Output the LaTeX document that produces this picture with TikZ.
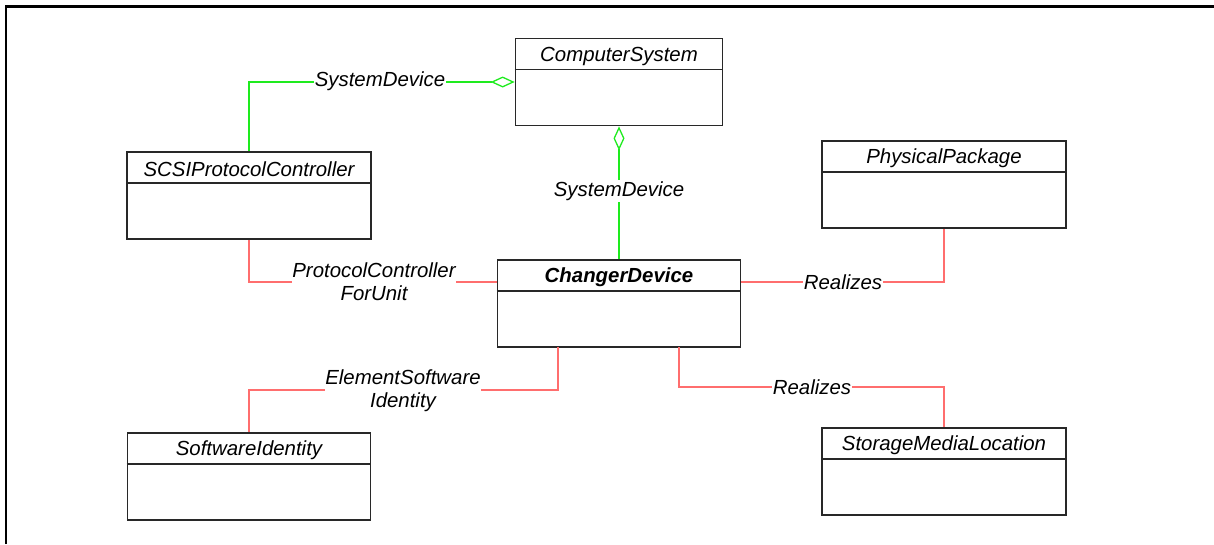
\documentclass[tikz,border=0pt]{standalone}
\usepackage{fontspec}
\setmainfont{Liberation Sans}
\usetikzlibrary{arrows.meta,calc}
\definecolor{relred}{RGB}{255,110,110}
\definecolor{relgreen}{RGB}{30,235,30}
\definecolor{boxline}{RGB}{40,40,40}
\tikzset{
  umlbox/.style={draw=boxline, line width=1.7pt, fill=white, inner sep=0pt},
  umltitle/.style={font=\fontsize{20.4}{23}\selectfont\itshape, inner sep=0pt},
  umldiv/.style={draw=boxline, line width=1.5pt},
  redrel/.style={draw=relred, line width=1.5pt},
  greenrel/.style={draw=relgreen, line width=1.4pt},
  aggr/.style={-{Diamond[open,length=24pt,width=11pt,line width=1.3pt]}},
  rellabel/.style={font=\fontsize{20.4}{23}\selectfont\itshape, fill=white, inner sep=1pt, align=center},
  frameline/.style={line width=2.3pt, draw=black}
}
\begin{document}
\begin{tikzpicture}[x=1pt,y=-1pt]
\useasboundingbox (0,0) rectangle (1214,544);
% frame (left and top edges only)
\draw[frameline] (5.7,544) -- (5.7,6.5) -- (1214,6.5);

% class boxes
\node[umlbox, minimum width=207pt, minimum height=87pt] (cs) at (619,82) {};
\node[umlbox, minimum width=244pt, minimum height=87pt] (scsi) at (249,195.5) {};
\node[umlbox, minimum width=244pt, minimum height=87pt] (pp) at (944,184.5) {};
\node[umlbox, minimum width=243pt, minimum height=87pt] (cd) at (619,303.5) {};
\node[umlbox, minimum width=243pt, minimum height=87pt] (si) at (249,476.5) {};
\node[umlbox, minimum width=244pt, minimum height=87pt] (sml) at (944,471.5) {};

% dividers
\foreach \b in {cs,scsi,pp,cd,si,sml}{
  \draw[umldiv] ($(\b.north west)+(0,32)$) -- ($(\b.north east)+(0,32)$);
}

% titles
\node[umltitle] (cst) at ($(cs.north)+(0,18.5)$) {ComputerSystem};
\node[umltitle] (scsit) at ($(scsi.north)+(0,18.5)$) {SCSIProtocolController};
\node[umltitle] (ppt) at ($(pp.north)+(0,18.5)$) {PhysicalPackage};
\node[umltitle, font=\fontsize{20.4}{23}\selectfont\bfseries\itshape] (cdt) at ($(cd.north)+(0,18.5)$) {ChangerDevice};
\node[umltitle] (sit) at ($(si.north)+(0,18.5)$) {SoftwareIdentity};
\node[umltitle] (smlt) at ($(sml.north)+(0,18.5)$) {StorageMediaLocation};

% anchor points on ChangerDevice
\path (cd.west) ++(0,-21.5) coordinate (cdL);
\path (cd.east) ++(0,-21.5) coordinate (cdR);
\coordinate (cdB1) at (558,347);
\coordinate (cdB2) at (679,347);

% SystemDevice aggregations
\draw[greenrel, aggr] (scsi.north) |- (cs.west);
\draw[greenrel, aggr] (cd.north) -- (cs.south);

% red associations
\draw[redrel] (scsi.south) |- (cdL);
\draw[redrel] (cdR) -| (pp.south);
\draw[redrel] (cdB1) -- (558,390) -| (si.north);
\draw[redrel] (cdB2) -- (679,387) -| (sml.north);

% labels
\node[rellabel] (l1) at (380,81.5) {SystemDevice};
\node[rellabel] (l2) at (619,191) {SystemDevice};
\node[rellabel, inner sep=0pt] (l3) at (374,281.5) {ProtocolController\\ForUnit};
\node[rellabel] (l4) at (843,282) {Realizes};
\node[rellabel, inner sep=0pt] (l5) at (403,390.5) {ElementSoftware\\Identity};
\node[rellabel] (l6) at (812,387) {Realizes};
\end{tikzpicture}
\end{document}
